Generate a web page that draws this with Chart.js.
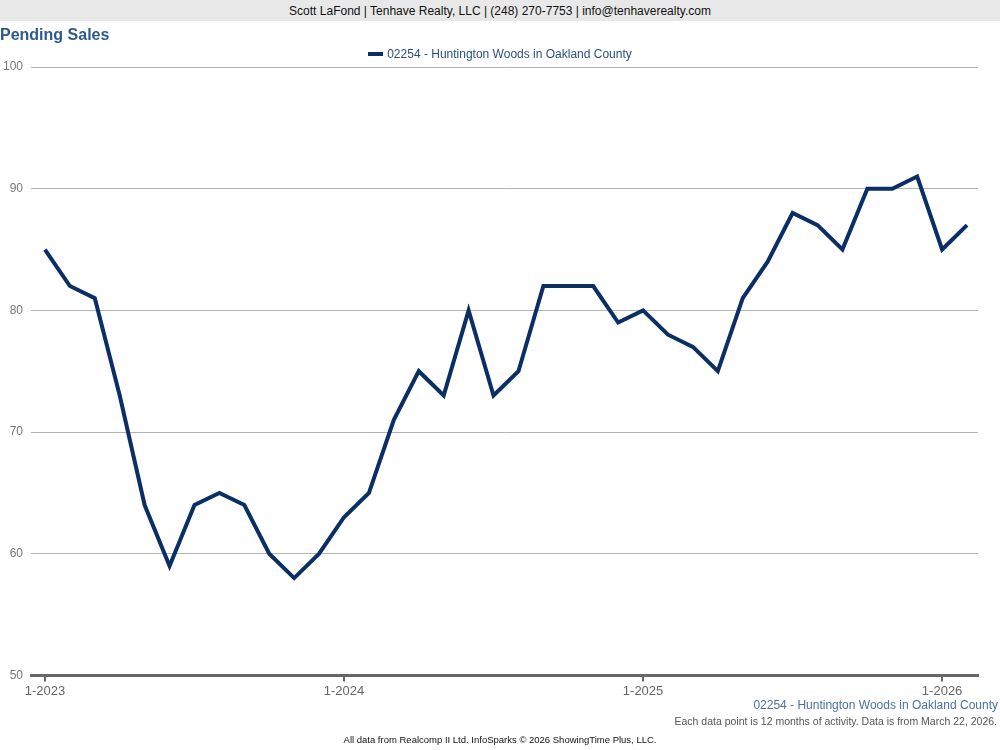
<!DOCTYPE html>
<html><head><meta charset="utf-8">
<script src="https://cdn.jsdelivr.net/npm/chart.js@4.4.1/dist/chart.umd.min.js"></script>
<style>
html,body{margin:0;padding:0;background:#fff;font-family:"Liberation Sans",Arial,sans-serif;}
#wrap{position:relative;width:1000px;height:750px;overflow:hidden;}
#hdr{position:absolute;left:0;top:0;width:1000px;height:21px;background:#e8e8e8;color:#111;font-size:12px;line-height:23px;text-align:center;}
#ttl{position:absolute;left:0;top:26px;font-size:16px;font-weight:bold;color:#2d5a8c;}
#c{position:absolute;left:0;top:0;}
#leg{position:absolute;left:0;width:1000px;top:47px;text-align:center;font-size:12px;color:#2d4f7f;line-height:14px;}
#leg span.box{display:inline-block;width:15px;height:4px;background:#0b2f64;vertical-align:middle;margin-right:4px;position:relative;top:-1px;}
#src{position:absolute;right:2px;top:698px;font-size:12px;color:#4a72a8;}
#note{position:absolute;right:3px;top:715px;font-size:10.5px;color:#555;}
#ft{position:absolute;left:0;width:1000px;top:734px;font-size:9.5px;color:#111;text-align:center;}
</style></head>
<body><div id="wrap">
<canvas id="c" width="1000" height="750"></canvas>
<div id="hdr">Scott LaFond | Tenhave Realty, LLC | (248) 270-7753 | info@tenhaverealty.com</div>
<div id="ttl">Pending Sales</div>
<div id="leg"><span class="box"></span><span id="legtxt"></span></div>
<div id="src">02254 - Huntington Woods in Oakland County</div>
<div id="note">Each data point is 12 months of activity. Data is from March 22, 2026.</div>
<div id="ft">All data from Realcomp II Ltd. InfoSparks © 2026 ShowingTime Plus, LLC.</div>
</div>
<script>
const seriesName = "02254 - Huntington Woods in Oakland County";
const months = ["1-2023","2-2023","3-2023","4-2023","5-2023","6-2023","7-2023","8-2023","9-2023","10-2023","11-2023","12-2023",
"1-2024","2-2024","3-2024","4-2024","5-2024","6-2024","7-2024","8-2024","9-2024","10-2024","11-2024","12-2024",
"1-2025","2-2025","3-2025","4-2025","5-2025","6-2025","7-2025","8-2025","9-2025","10-2025","11-2025","12-2025",
"1-2026","2-2026"];
const pendingSales = [85,82,81,73,64,59,64,65,64,60,58,60,
63,65,71,75,73,80,73,75,82,82,82,79,
80,78,77,75,81,84,88,87,85,90,90,91,
85,87];
const tickLabels = ["1-2023","1-2024","1-2025","1-2026"];
const yTicks = [50,60,70,80,90,100];

document.getElementById('legtxt').textContent = seriesName;
const pts = pendingSales.map((v,i)=>({x:i,y:v}));
new Chart(document.getElementById('c'),{
  type:'line',
  data:{datasets:[{label:seriesName,data:pts,borderColor:'#0b2f64',backgroundColor:'#0b2f64',borderWidth:4,pointRadius:0,tension:0,fill:false}]},
  options:{
    responsive:false,animation:false,devicePixelRatio:1,
    layout:{padding:{left:2,right:22,top:67,bottom:49}},
    plugins:{
      legend:{display:false},
      tooltip:{enabled:false}
    },
    scales:{
      x:{type:'linear',min:-0.56,max:37.44,
        afterBuildTicks:(ax)=>{ax.ticks=tickLabels.map(l=>({value:months.indexOf(l)}));},
        ticks:{callback:(v)=>months[v],color:'#666',font:{family:'Liberation Sans',size:13},padding:2,maxRotation:0,autoSkip:false},
        grid:{display:true,drawOnChartArea:false,drawTicks:true,tickLength:6,color:'#666',lineWidth:2},
        border:{display:true,color:'#666',width:3}
      },
      y:{min:50,max:100,
        afterBuildTicks:(ax)=>{ax.ticks=yTicks.map(v=>({value:v}));},
        afterFit:(ax)=>{ax.width=29;},
        ticks:{color:'#777',font:{family:'Liberation Sans',size:12},padding:8},
        grid:{color:'#b4b4b4',lineWidth:1,drawTicks:false},
        border:{display:false}
      }
    }
  }
});
</script>
</body></html>
